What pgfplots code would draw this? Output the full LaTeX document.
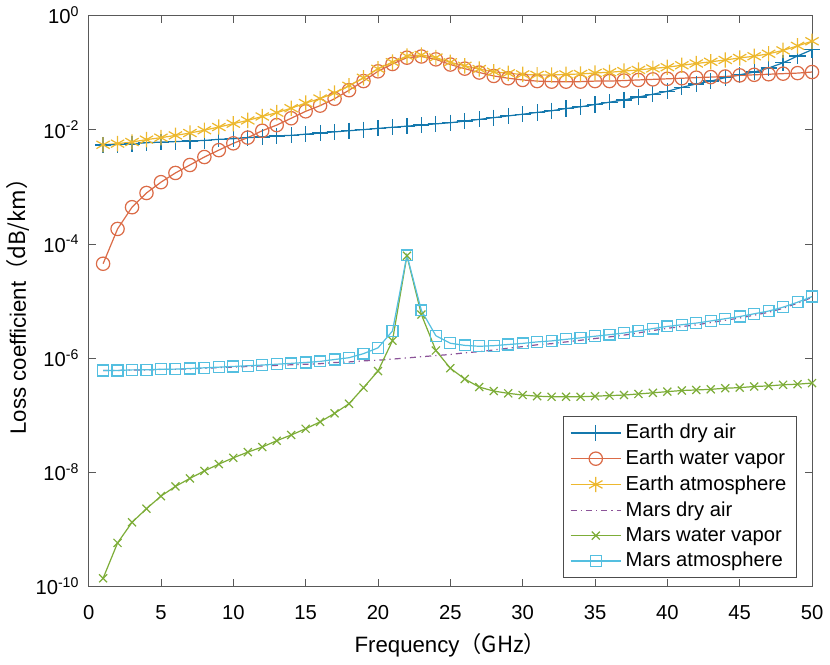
\documentclass[border=0pt]{standalone}
\usepackage{fontspec}
\setmainfont{Liberation Sans}
\newfontfamily\cjk{Noto Sans CJK SC}
\usepackage{pgfplots}
\usepackage{pgfplotstable}
\pgfplotsset{compat=1.18}

\definecolor{mblue}{rgb}{0.08,0.47,0.68}
\definecolor{morange}{rgb}{0.86,0.42,0.28}
\definecolor{myellow}{rgb}{0.93,0.72,0.18}
\definecolor{mpurple}{rgb}{0.55,0.33,0.6}
\definecolor{mgreen}{rgb}{0.49,0.68,0.22}
\definecolor{mcyan}{rgb}{0.33,0.75,0.88}

% loss coefficient (dB/km) vs frequency (GHz)
\pgfplotstableread{
f edry evap eatm mdry mvap matm
1 5.37e-3 4.47e-5 5.42e-3 6.03e-7 1.38e-10 6.03e-7
2 5.50e-3 1.82e-4 5.68e-3 6.03e-7 5.75e-10 6.04e-7
3 5.62e-3 4.37e-4 6.06e-3 6.17e-7 1.32e-9 6.18e-7
4 5.89e-3 7.76e-4 6.67e-3 6.17e-7 2.29e-9 6.19e-7
5 6.03e-3 1.20e-3 7.23e-3 6.31e-7 3.80e-9 6.35e-7
6 6.17e-3 1.74e-3 7.91e-3 6.31e-7 5.62e-9 6.37e-7
7 6.31e-3 2.40e-3 8.71e-3 6.46e-7 7.76e-9 6.54e-7
8 6.46e-3 3.31e-3 9.77e-3 6.61e-7 1.05e-8 6.72e-7
9 6.76e-3 4.37e-3 1.11e-2 6.76e-7 1.38e-8 6.90e-7
10 6.92e-3 5.75e-3 1.27e-2 6.92e-7 1.78e-8 7.10e-7
11 7.24e-3 7.24e-3 1.45e-2 7.08e-7 2.24e-8 7.30e-7
12 7.41e-3 9.55e-3 1.70e-2 7.24e-7 2.75e-8 7.52e-7
13 7.76e-3 1.20e-2 1.98e-2 7.41e-7 3.55e-8 7.77e-7
14 7.94e-3 1.58e-2 2.37e-2 7.59e-7 4.47e-8 8.04e-7
15 8.32e-3 2.09e-2 2.92e-2 7.76e-7 5.75e-8 8.34e-7
16 8.71e-3 2.63e-2 3.50e-2 7.94e-7 7.59e-8 8.70e-7
17 9.12e-3 3.47e-2 4.38e-2 8.32e-7 1.07e-7 9.39e-7
18 9.55e-3 4.90e-2 5.86e-2 8.51e-7 1.58e-7 1.01e-6
19 1.00e-2 7.08e-2 8.08e-2 8.91e-7 3.02e-7 1.19e-6
20 1.05e-2 0.105 0.116 9.12e-7 5.89e-7 1.50e-6
21 1.10e-2 0.141 0.152 9.55e-7 2.00e-6 2.96e-6
22 1.15e-2 0.182 0.194 1.00e-6 6.17e-5 6.27e-5
23 1.20e-2 0.191 0.203 1.05e-6 5.75e-6 6.80e-6
24 1.26e-2 0.170 0.183 1.10e-6 1.35e-6 2.45e-6
25 1.32e-2 0.138 0.151 1.15e-6 6.61e-7 1.81e-6
26 1.41e-2 0.117 0.131 1.23e-6 4.27e-7 1.66e-6
27 1.51e-2 0.100 0.115 1.29e-6 3.09e-7 1.60e-6
28 1.62e-2 8.71e-2 0.103 1.38e-6 2.63e-7 1.64e-6
29 1.74e-2 7.94e-2 9.68e-2 1.48e-6 2.40e-7 1.72e-6
30 1.86e-2 7.41e-2 9.27e-2 1.58e-6 2.24e-7 1.80e-6
31 2.00e-2 7.08e-2 9.08e-2 1.70e-6 2.14e-7 1.91e-6
32 2.14e-2 6.92e-2 9.06e-2 1.78e-6 2.09e-7 1.99e-6
33 2.34e-2 6.92e-2 9.26e-2 1.91e-6 2.09e-7 2.12e-6
34 2.51e-2 6.92e-2 9.43e-2 2.04e-6 2.09e-7 2.25e-6
35 2.75e-2 7.08e-2 9.83e-2 2.19e-6 2.14e-7 2.40e-6
36 3.02e-2 7.08e-2 0.101 2.34e-6 2.19e-7 2.56e-6
37 3.31e-2 7.24e-2 0.106 2.51e-6 2.24e-7 2.73e-6
38 3.72e-2 7.41e-2 0.111 2.75e-6 2.34e-7 2.98e-6
39 4.17e-2 7.59e-2 0.118 3.02e-6 2.45e-7 3.27e-6
40 4.68e-2 7.76e-2 0.124 3.31e-6 2.57e-7 3.57e-6
41 5.50e-2 7.94e-2 0.134 3.55e-6 2.69e-7 3.82e-6
42 6.31e-2 8.13e-2 0.144 3.80e-6 2.75e-7 4.08e-6
43 7.08e-2 8.32e-2 0.154 4.17e-6 2.82e-7 4.45e-6
44 8.13e-2 8.51e-2 0.166 4.57e-6 2.95e-7 4.87e-6
45 9.12e-2 8.91e-2 0.180 5.01e-6 3.02e-7 5.31e-6
46 0.102 9.12e-2 0.193 5.62e-6 3.16e-7 5.94e-6
47 0.120 9.33e-2 0.213 6.31e-6 3.24e-7 6.63e-6
48 0.148 9.55e-2 0.244 7.41e-6 3.39e-7 7.75e-6
49 0.195 9.77e-2 0.293 9.12e-6 3.47e-7 9.47e-6
50 0.251 0.102 0.353 1.15e-5 3.63e-7 1.19e-5
}\loss

\begin{document}
\begin{tikzpicture}
\begin{axis}[
  width=358pt, height=282.5pt, scale only axis,
  ymode=log,
  xmin=0, xmax=50, ymin=1e-10, ymax=1,
  xtick={0,5,...,50},
  ytick={1e-10,1e-8,1e-6,1e-4,1e-2,1},
  yticklabels={10\textsuperscript{-10},10\textsuperscript{-8},10\textsuperscript{-6},10\textsuperscript{-4},10\textsuperscript{-2},10\textsuperscript{0}},
  yminorticks=false,
  tick align=inside, tick pos=both,
  major tick length=3.5pt,
  axis line style={black!65},
  tick style={black!65},
  font=\fontsize{10}{12}\selectfont,
  xticklabel style={/pgf/number format/assume math mode=true, yshift=-6pt},
  yticklabel style={xshift=-1pt},
  label style={font=\fontsize{11}{13}\selectfont},
  xlabel={Frequency\cjk{（}GHz\cjk{）}},
  ylabel={Loss coefficient\cjk{（}dB/km\cjk{）}},
  ylabel style={yshift=-4pt},
  every axis plot/.append style={line width=0.6pt},
  legend style={at={(0.979,0.014)}, anchor=south east, draw=black!70,
    font=\fontsize{10}{12}\selectfont, row sep=0pt,
    inner xsep=3pt, inner ysep=2pt},
  legend cell align=left,
  legend image code/.code={
    \draw[mark repeat=2, mark phase=2] plot coordinates {(0pt,0pt) (12.5pt,0pt) (25pt,0pt)};
  },
]
\addplot[mblue, mark=+, mark size=4pt] table[x=f, y=edry] {\loss};
\addlegendentry{Earth dry air}
\addplot[morange, mark=o, mark size=3.3pt] table[x=f, y=evap] {\loss};
\addlegendentry{Earth water vapor}
\addplot[myellow, mark=asterisk, mark size=3.8pt] table[x=f, y=eatm] {\loss};
\addlegendentry{Earth atmosphere}
\addplot[mpurple, dash dot] table[x=f, y=mdry] {\loss};
\addlegendentry{Mars dry air}
\addplot[mgreen, mark=x, mark size=2.8pt] table[x=f, y=mvap] {\loss};
\addlegendentry{Mars water vapor}
\addplot[mcyan, mark=square, mark size=2.7pt] table[x=f, y=matm] {\loss};
\addlegendentry{Mars atmosphere}
\end{axis}
\end{tikzpicture}
\end{document}
